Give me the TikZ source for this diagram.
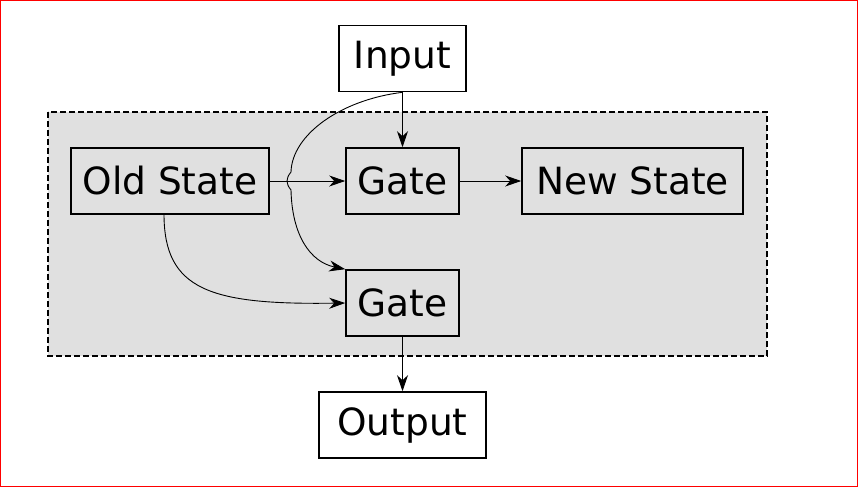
\documentclass[tikz,border=0pt]{standalone}
\usepackage{fontspec}
\setmainfont{DejaVu Sans}
\usetikzlibrary{arrows.meta}
\definecolor{regiongray}{HTML}{E0E0E0}
\begin{document}
\begin{tikzpicture}[x=1pt,y=-1pt,
  box/.style={draw=black, line width=1.6pt, minimum height=66pt, inner xsep=13pt, inner sep=0pt, font=\fontsize{37.5}{42}\selectfont, anchor=center},
  conn/.style={draw=black, line width=0.9pt, -{Stealth[length=16pt,width=11pt,inset=5pt]}}]
\useasboundingbox (0,0) rectangle (858,487);
\draw[red, line width=1.2pt] (0.6,0.6) rectangle (857.4,486.4);
% region
\draw[fill=regiongray, dashed, dash pattern=on 6pt off 3pt, line width=1.6pt] (48,112) rectangle (767,356);
% nodes
\node[box, fill=white, minimum width=127pt] (input) at (402.5,58.5) {Input};
\node[box, fill=regiongray, minimum width=198pt] (old) at (170,181) {Old State};
\node[box, fill=regiongray, minimum width=113pt] (gate1) at (402.5,181) {Gate};
\node[box, fill=regiongray, minimum width=221pt] (new) at (632.5,181) {New State};
\node[box, fill=regiongray, minimum width=113pt] (gate2) at (402.5,303) {Gate};
\node[box, fill=white, minimum width=167pt] (output) at (402.5,425) {Output};
\coordinate (hopA) at (291,172);
\coordinate (hopB) at (291,190);
\coordinate (hopL) at (287,181);
% edges
\draw[conn] (input.south) -- (gate1.north);
\draw[line width=0.9pt] (input.south) .. controls (340,100) and (292,135) .. (hopA)
  .. controls (288,176) .. (hopL) .. controls (288,186) .. (hopB);
\draw[conn] (hopB) .. controls (292,235) and (310,262) .. (gate2.north west);
\draw[conn] (old.east) -- (gate1.west);
\draw[conn] (gate1.east) -- (new.west);
\draw[conn] (164,214) .. controls (164,290) and (210,305) .. (gate2.west);
\draw[conn] (gate2.south) -- (output.north);
\end{tikzpicture}
\end{document}
